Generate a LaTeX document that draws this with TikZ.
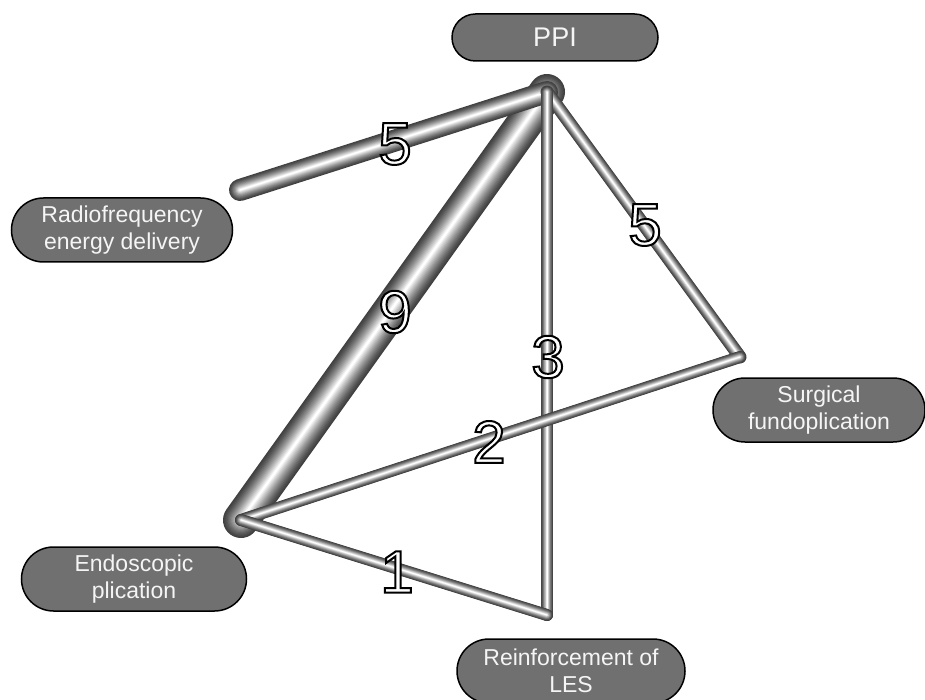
\documentclass[tikz,border=0pt]{standalone}
\usepackage{fontspec}
\setmainfont{Liberation Sans}
\usetikzlibrary{shapes.misc}
\definecolor{boxfill}{RGB}{112,112,112}
\definecolor{boxtext}{RGB}{245,245,245}
\newcommand\outl[1]{\special{pdf:literal direct 2 Tr 2 w 0 G 1 g}#1\special{pdf:literal direct 0 Tr}}
\tikzset{
  box/.style={rounded rectangle, draw=black, line width=1.5pt, fill=boxfill, text=boxtext,
    align=center, font=\fontsize{23}{27.5}\selectfont, inner sep=0pt, minimum height=64pt},
  num/.style={text=white, font=\fontsize{60}{60}\selectfont, inner sep=0pt}
}
\newcommand\tube[3]{%
  \foreach \k in {0,...,15}{%
    \pgfmathsetmacro\rr{1-\k/16}%
    \pgfmathsetmacro\ww{\rr*#1}%
    \pgfmathsetmacro\pp{25+75*(\k/15)^1.3}%
    \draw[line width=\ww pt, color=white!\pp!black, line cap=round] (#2) -- (#3);
  }}
\begin{document}
\begin{tikzpicture}[x=1pt,y=-1pt]
\useasboundingbox (0,0) rectangle (925,700);
% vertices
\coordinate (vPPI) at (547,92);
\coordinate (vRF) at (240,190);
\coordinate (vSF) at (740,357);
\coordinate (vEP) at (241,520);
\coordinate (vRL) at (547,615);
% edges
\tube{36}{vPPI}{vEP}
\tube{22}{vPPI}{vRF}
\tube{13}{vPPI}{vSF}
\tube{12}{vPPI}{vRL}
\tube{12}{vSF}{vEP}
\tube{12}{vEP}{vRL}
% treatment boxes
\node[box, minimum width=206pt, minimum height=47pt, font=\fontsize{27}{30}\selectfont] (ppi) at (555,37.5) {PPI};
\node[box, minimum width=221pt] (rf) at (122,230) {Radiofrequency\\energy delivery};
\node[box, minimum width=212pt] (sf) at (819,410) {Surgical\\fundoplication};
\node[box, minimum width=225pt] (ep) at (134,579) {Endoscopic\\plication};
\node[box, minimum width=228pt] (rl) at (571,671) {Reinforcement of\\LES};
% edge labels
\node[num] (n5a) at (395,144) {\outl{5}};
\node[num] (n9) at (395,312) {\outl{9}};
\node[num] (n3) at (548,357) {\outl{3}};
\node[num] (n5b) at (645,225) {\outl{5}};
\node[num] (n2) at (489,442) {\outl{2}};
\node[num] (n1) at (397,572) {\outl{1}};
\end{tikzpicture}
\end{document}
